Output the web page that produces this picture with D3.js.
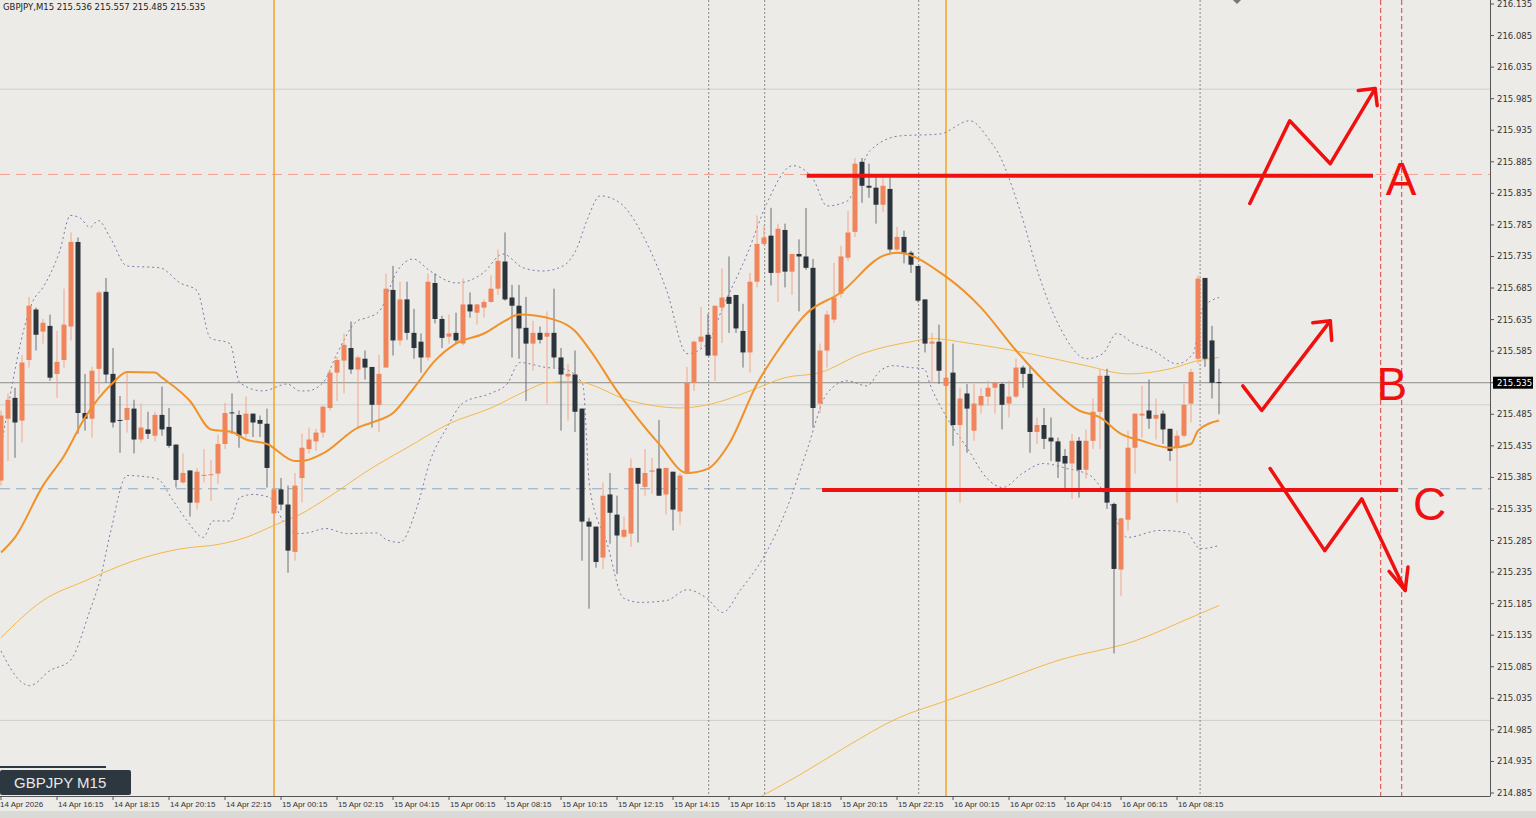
<!DOCTYPE html>
<html>
<head>
<meta charset="utf-8">
<script src="https://cdn.jsdelivr.net/npm/d3@7"></script>
<style>
  body { margin: 0; background: #ecebe7; }
  svg { display: block; font-family: "DejaVu Sans", sans-serif; }
</style>
</head>
<body>
<svg id="chart" width="1536" height="818"></svg>
<script>
// GBPJPY M15 candles, bar 0 = 14 Apr 14:15
var opens = [215.380,215.478,215.511,215.475,215.571,215.651,215.616,215.625,215.549,215.571,
215.624,215.758,215.487,215.478,215.557,215.679,215.549,215.476,215.476,215.494,
215.445,215.461,215.451,215.484,215.465,215.437,215.377,215.396,215.345,215.389,
215.389,215.391,215.438,215.488,215.484,215.454,215.486,215.476,215.470,215.328,
215.366,215.342,215.267,215.384,215.430,215.442,215.456,215.495,215.551,215.570,
215.590,215.556,215.573,215.560,215.500,215.559,215.682,215.602,215.667,215.614,
215.600,215.575,215.693,215.636,215.608,215.614,215.597,215.659,215.646,215.654,
215.663,215.684,215.727,215.670,215.657,215.622,215.597,215.614,215.608,215.614,
215.575,215.545,215.548,215.494,215.315,215.307,215.258,215.358,215.326,215.291,
215.296,215.400,215.370,215.394,215.399,215.358,215.394,215.331,215.391,215.535,
215.600,215.611,215.578,215.654,215.671,215.674,215.617,215.583,215.695,215.755,
215.768,215.709,215.777,215.711,215.739,215.735,215.717,215.502,215.586,215.635,
215.676,215.733,215.774,215.885,215.847,215.844,215.817,215.842,215.746,215.766,
215.741,215.720,215.667,215.597,215.600,215.530,215.551,215.468,215.518,215.459,
215.499,215.513,215.527,215.533,215.502,215.513,215.559,215.549,215.457,215.468,
215.448,215.442,215.419,215.407,215.443,215.397,215.443,215.489,215.546,215.343,
215.239,215.318,215.432,215.483,215.491,215.478,215.486,215.462,215.432,215.451,
215.502,215.573,215.701,215.602,215.536];
var highs = [215.491,215.518,215.527,215.579,215.671,215.654,215.636,215.643,215.617,215.684,
215.773,215.765,215.549,215.560,215.681,215.701,215.590,215.514,215.552,215.508,
215.502,215.489,215.489,215.529,215.495,215.437,215.423,215.396,215.400,215.430,
215.413,215.453,215.503,215.518,215.491,215.513,215.486,215.483,215.494,215.384,
215.384,215.372,215.392,215.454,215.464,215.462,215.499,215.556,215.576,215.613,
215.632,215.578,215.586,215.560,215.579,215.708,215.720,215.695,215.695,215.652,
215.613,215.708,215.708,215.641,215.643,215.646,215.700,215.678,215.660,215.667,
215.705,215.746,215.773,215.690,215.690,215.671,215.633,215.624,215.648,215.684,
215.590,215.565,215.586,215.494,215.321,215.307,215.377,215.392,215.356,215.323,
215.415,215.400,215.430,215.416,215.476,215.400,215.394,215.392,215.560,215.602,
215.655,215.644,215.657,215.716,215.735,215.674,215.660,215.709,215.800,215.784,
215.812,215.787,215.787,215.739,215.762,215.812,215.731,215.597,215.649,215.725,
215.752,215.807,215.891,215.891,215.882,215.863,215.860,215.860,215.782,215.776,
215.744,215.720,215.667,215.614,215.627,215.570,215.597,215.527,215.533,215.533,
215.527,215.538,215.537,215.535,215.538,215.573,215.562,215.562,215.480,215.495,
215.480,215.448,215.430,215.454,215.449,215.461,215.510,215.556,215.557,215.345,
215.321,215.459,215.486,215.530,215.540,215.510,215.491,215.462,215.459,215.533,
215.557,215.705,215.701,215.625,215.557];
var lows = [215.372,215.411,215.416,215.440,215.559,215.586,215.597,215.538,215.511,215.559,
215.602,215.454,215.459,215.448,215.518,215.535,215.464,215.424,215.456,215.423,
215.440,215.446,215.442,215.451,215.432,215.369,215.375,215.323,215.334,215.377,
215.348,215.375,215.430,215.454,215.432,215.448,215.449,215.449,215.369,215.308,
215.333,215.234,215.253,215.345,215.423,215.427,215.448,215.491,215.506,215.518,
215.549,215.464,215.540,215.464,215.457,215.559,215.578,215.594,215.603,215.573,
215.551,215.570,215.629,215.590,215.597,215.597,215.594,215.638,215.627,215.638,
215.662,215.674,215.665,215.575,215.573,215.506,215.554,215.597,215.502,215.559,
215.459,215.475,215.457,215.253,215.177,215.242,215.240,215.280,215.232,215.288,
215.275,215.282,215.356,215.359,215.356,215.326,215.301,215.310,215.391,215.522,
215.590,215.578,215.538,215.598,215.614,215.614,215.559,215.551,215.686,215.753,
215.689,215.663,215.686,215.674,215.648,215.714,215.464,215.487,215.559,215.630,
215.670,215.728,215.766,215.820,215.828,215.787,215.806,215.741,215.744,215.724,
215.709,215.662,215.583,215.535,215.533,215.522,215.435,215.345,215.424,215.443,
215.486,215.499,215.486,215.461,215.480,215.511,215.527,215.424,215.438,215.430,
215.411,215.384,215.367,215.351,215.353,215.383,215.430,215.430,215.335,215.106,
215.197,215.301,215.391,215.448,215.462,215.445,215.438,215.411,215.345,215.448,
215.472,215.565,215.560,215.510,215.485];
var closes = [215.483,215.508,215.472,215.567,215.657,215.611,215.630,215.543,215.568,215.627,
215.758,215.487,215.478,215.554,215.678,215.548,215.472,215.475,215.495,215.445,
215.464,215.454,215.484,215.461,215.435,215.381,215.392,215.345,215.394,215.389,
215.390,215.438,215.487,215.487,215.451,215.486,215.472,215.470,215.400,215.366,
215.342,215.269,215.372,215.432,215.445,215.456,215.497,215.551,215.571,215.595,
215.556,215.575,215.559,215.500,215.549,215.684,215.602,215.667,215.614,215.590,
215.575,215.695,215.636,215.606,215.613,215.602,215.659,215.648,215.659,215.663,
215.684,215.728,215.667,215.657,215.621,215.597,215.614,215.603,215.614,215.575,
215.548,215.549,215.489,215.315,215.307,215.251,215.356,215.329,215.293,215.302,
215.400,215.375,215.392,215.396,215.356,215.400,215.334,215.388,215.535,215.600,
215.608,215.578,215.657,215.670,215.660,215.621,215.583,215.695,215.755,215.765,
215.709,215.779,215.711,215.739,215.735,215.717,215.495,215.586,215.643,215.670,
215.735,215.773,215.882,215.847,215.844,215.817,215.847,215.746,215.766,215.741,
215.722,215.665,215.597,215.600,215.554,215.543,215.468,215.510,215.494,215.502,
215.514,215.527,215.535,215.500,215.513,215.559,215.549,215.457,215.468,215.446,
215.442,215.410,215.407,215.443,215.397,215.443,215.489,215.546,215.345,215.240,
215.320,215.432,215.486,215.486,215.478,215.484,215.461,215.427,215.451,215.500,
215.552,215.700,215.573,215.535,215.535];

// indicator readings [bar, price]
var maFast = [[0,215.266],[2,215.290],[6,215.372],[9,215.419],[12,215.480],[16,215.535],[18,215.552],[22,215.551],
[23,215.543],[27,215.506],[30,215.461],[33,215.457],[35,215.445],[38,215.438],[42,215.411],[43,215.411],[46,215.423],
[51,215.464],[53,215.472],[56,215.487],[59,215.527],[62,215.570],[65,215.597],[69,215.613],[72,215.633],[74,215.643],
[79,215.635],[82,215.617],[84,215.589],[88,215.522],[94,215.438],[98,215.392],[101,215.399],[104,215.438],[108,215.533],
[111,215.586],[115,215.644],[120,215.678],[126,215.736],[128,215.741],[135,215.703],[140,215.654],[145,215.586],
[149,215.538],[154,215.491],[157,215.480],[160,215.454],[163,215.443],[167,215.432],[170,215.438],[171,215.459],[174,215.475]];
var maMid = [[0,215.131],[6,215.190],[12,215.221],[19,215.253],[27,215.274],[30,215.277],[35,215.290],[39,215.309],
[43,215.328],[46,215.348],[53,215.400],[58,215.432],[64,215.470],[70,215.495],[75,215.522],[78,215.535],[82,215.537],
[90,215.506],[97,215.495],[103,215.506],[107,215.522],[112,215.543],[117,215.551],[123,215.581],[130,215.600],
[133,215.605],[138,215.598],[147,215.581],[155,215.562],[161,215.549],[167,215.557],[171,215.570],[174,215.575]];
var maSlow = [[107,214.870],[114,214.913],[121,214.960],[128,215.003],[135,215.031],[143,215.063],[151,215.095],
[162,215.126],[170,215.163],[174,215.182]];
var bbUpper = [[0,215.432],[4.6,215.665],[6,215.686],[8.4,215.744],[9.9,215.800],[11.3,215.796],[12.7,215.781],
[13.9,215.792],[15.6,215.765],[18,215.720],[22.7,215.717],[25.6,215.693],[28,215.681],[29.9,215.606],[32.7,215.597],
[34.1,215.535],[37.4,215.522],[40.9,215.533],[42.7,215.522],[43.7,215.522],[46,215.535],[48,215.581],[50.9,215.633],
[52.3,215.638],[54.1,215.649],[56.6,215.712],[58.9,215.731],[61.3,215.712],[65.1,215.693],[68.9,215.709],[71.7,215.739],
[74.6,215.717],[77.4,215.712],[80.3,215.720],[82.3,215.749],[83.7,215.792],[85.6,215.831],[88.4,215.820],[92.3,215.755],
[95.1,215.681],[98,215.581],[100.9,215.597],[103.1,215.654],[106.6,215.739],[109.4,215.819],[113.1,215.879],[116,215.858],
[118,215.815],[120.9,215.823],[124.1,215.902],[128.4,215.926],[134.1,215.929],[138.4,215.950],[141.3,215.918],
[142.3,215.902],[145.6,215.807],[148.4,215.701],[151.3,215.622],[155.1,215.573],[157.4,215.581],[159.4,215.613],
[161.7,215.598],[164.6,215.586],[168,215.565],[170.3,215.581],[171.7,215.654],[174,215.670]];
var bbLower = [[0,215.110],[2.7,215.063],[4.1,215.055],[7,215.079],[9.9,215.095],[12.7,215.174],[14.1,215.221],
[15.6,215.296],[18,215.388],[22.3,215.383],[24.6,215.348],[26.6,215.316],[28.9,215.290],[30.3,215.316],[32.7,215.316],
[34.1,215.353],[36,215.358],[38.4,215.353],[40.3,215.316],[42.3,215.296],[43.7,215.297],[46.4,215.304],[49.4,215.296],
[53.7,215.297],[55.1,215.286],[57,215.282],[59.4,215.337],[61.3,215.411],[63.7,215.464],[66,215.503],[69.9,215.518],
[72.3,215.533],[74.1,215.567],[78,215.559],[80.3,215.557],[83.1,215.533],[84.1,215.369],[86.6,215.280],[88.9,215.194],
[91.3,215.187],[95.1,215.190],[98,215.207],[100.9,215.193],[103.1,215.171],[105.6,215.206],[108.9,215.258],
[112.3,215.337],[115.1,215.427],[118,215.518],[120.9,215.538],[123.7,215.530],[125.6,215.554],[127.4,215.562],
[129.9,215.559],[131.9,215.557],[132.7,215.533],[135.1,215.480],[138,215.432],[140.9,215.383],[143.1,215.369],
[146,215.392],[148.9,215.407],[152.3,215.399],[155.6,215.388],[158,215.353],[160.9,215.290],[165.6,215.301],
[169.4,215.297],[171.3,215.272],[174,215.277]];

var priceTicks = ["216.135","216.085","216.035","215.985","215.935","215.885","215.835","215.785","215.735",
"215.685","215.635","215.585","215.535","215.485","215.435","215.385","215.335","215.285","215.235","215.185",
"215.135","215.085","215.035","214.985","214.935","214.885"];
var timeLabels = ["14 Apr 2026","14 Apr 16:15","14 Apr 18:15","14 Apr 20:15","14 Apr 22:15",
"15 Apr 00:15","15 Apr 02:15","15 Apr 04:15","15 Apr 06:15","15 Apr 08:15","15 Apr 10:15","15 Apr 12:15",
"15 Apr 14:15","15 Apr 16:15","15 Apr 18:15","15 Apr 20:15","15 Apr 22:15",
"16 Apr 00:15","16 Apr 02:15","16 Apr 04:15","16 Apr 06:15","16 Apr 08:15"];
var gridPrices = [216.0, 215.5, 215.0];
var sessionBars = [39, 135];          // orange verticals (day starts)
var markerBars = [101.1, 109.1, 131.1, 171.3];
var futureBars = [197.1, 200.1];
var levelA = 215.865, levelC = 215.367, lastPrice = 215.535;

// hand-drawn scenario annotations [bar, price]
var lineA = [[115.1, 215.863], [196, 215.863]];
var lineC = [[117.3, 215.365], [199.6, 215.365]];
var arrowA = [[178.4,215.819],[184.1,215.950],[189.9,215.882],[196.3,216.001]];
var headA = [[193.9,215.998],[196.3,216.001],[196.6,215.974]];
var arrowB = [[177.4,215.530],[180.1,215.491],[189.9,215.633]];
var headB = [[187.4,215.630],[189.9,215.633],[190.1,215.602]];
var arrowC = [[181.3,215.399],[189.1,215.269],[194.4,215.351],[200.6,215.206]];
var headC = [[198.3,215.236],[200.6,215.206],[201.0,215.243]];
var letters = [["A",200.0,215.858],["B",198.7,215.533],["C",204.1,215.343]];

var plotW = 1490, plotH = 796;
var x = d3.scaleLinear().domain([0, 1]).range([1, 8]);
var y = d3.scaleLinear().domain([214.885, 216.135]).range([793, 4]);

var svg = d3.select("#chart");
svg.append("rect").attr("width", 1536).attr("height", 818).attr("fill", "#ecebe7");
svg.append("defs").append("clipPath").attr("id", "plot")
    .append("rect").attr("width", plotW).attr("height", plotH);
var g = svg.append("g").attr("clip-path", "url(#plot)");

gridPrices.forEach(function(p) {
    g.append("line").attr("x1", 0).attr("x2", plotW).attr("y1", y(p)).attr("y2", y(p))
        .attr("stroke", "#cfcfcb").attr("stroke-width", 1);
});
g.append("line").attr("x1", 0).attr("x2", plotW).attr("y1", y(lastPrice)).attr("y2", y(lastPrice))
    .attr("stroke", "#8c8c8c");
g.append("line").attr("x1", 0).attr("x2", plotW).attr("y1", y(levelA)).attr("y2", y(levelA))
    .attr("stroke", "#f0a090").attr("stroke-dasharray", "10,6");
g.append("line").attr("x1", 0).attr("x2", plotW).attr("y1", y(levelC)).attr("y2", y(levelC))
    .attr("stroke", "#90a8c0").attr("stroke-dasharray", "10,6");

markerBars.forEach(function(b) {
    g.append("line").attr("x1", x(b)).attr("x2", x(b)).attr("y1", 0).attr("y2", plotH)
        .attr("stroke", "#8a8a8a").attr("stroke-dasharray", "2,2");
});
sessionBars.forEach(function(b) {
    g.append("line").attr("x1", x(b)).attr("x2", x(b)).attr("y1", 0).attr("y2", plotH)
        .attr("stroke", "#f5a623").attr("stroke-width", 1.5);
});
futureBars.forEach(function(b) {
    g.append("line").attr("x1", x(b)).attr("x2", x(b)).attr("y1", 0).attr("y2", plotH)
        .attr("stroke", "#e04040").attr("stroke-dasharray", "5,3");
});

var line = d3.line().x(function(d) { return x(d[0]); }).y(function(d) { return y(d[1]); })
    .curve(d3.curveMonotoneX);
g.append("path").attr("d", line(bbUpper)).attr("fill", "none")
    .attr("stroke", "#7f78a8").attr("stroke-dasharray", "2,3");
g.append("path").attr("d", line(bbLower)).attr("fill", "none")
    .attr("stroke", "#7f78a8").attr("stroke-dasharray", "2,3");
g.append("path").attr("d", line(maSlow)).attr("fill", "none").attr("stroke", "#f5b84a").attr("stroke-width", 1);
g.append("path").attr("d", line(maMid)).attr("fill", "none").attr("stroke", "#f5b84a").attr("stroke-width", 1);

// candles
var bars = d3.range(opens.length);
var candles = g.append("g").selectAll("g").data(bars).enter().append("g");
function up(i) { return closes[i] >= opens[i]; }
candles.append("line")
    .attr("x1", function(i) { return x(i); }).attr("x2", function(i) { return x(i); })
    .attr("y1", function(i) { return y(highs[i]); }).attr("y2", function(i) { return y(lows[i]); })
    .attr("stroke", function(i) { return up(i) ? "#f4a58a" : "#6a6f74"; });
candles.append("rect")
    .attr("x", function(i) { return x(i) - 2.5; }).attr("width", 5)
    .attr("y", function(i) { return y(Math.max(opens[i], closes[i])); })
    .attr("height", function(i) { return Math.max(1, Math.abs(y(opens[i]) - y(closes[i]))); })
    .attr("fill", function(i) { return up(i) ? "#f0845a" : "#2b333b"; });

g.append("path").attr("d", line(maFast)).attr("fill", "none").attr("stroke", "#f0922a").attr("stroke-width", 2);

// annotations
var straight = d3.line().x(function(d) { return x(d[0]); }).y(function(d) { return y(d[1]); });
[lineA, lineC].forEach(function(l) {
    g.append("path").attr("d", straight(l)).attr("stroke", "#f01010").attr("stroke-width", 4).attr("fill", "none");
});
[arrowA, headA, arrowB, headB, arrowC, headC].forEach(function(l) {
    g.append("path").attr("d", straight(l)).attr("stroke", "#f01010").attr("stroke-width", 3.5)
        .attr("fill", "none").attr("stroke-linejoin", "round").attr("stroke-linecap", "round");
});
letters.forEach(function(l) {
    g.append("text").attr("x", x(l[1])).attr("y", y(l[2])).attr("text-anchor", "middle")
        .attr("dominant-baseline", "central").attr("fill", "#f01010")
        .attr("font-size", 46).attr("font-family", "Liberation Sans, sans-serif").text(l[0]);
});

// axes
svg.append("line").attr("x1", plotW + 0.5).attr("x2", plotW + 0.5).attr("y1", 0).attr("y2", plotH)
    .attr("stroke", "#555");
svg.append("line").attr("x1", 0).attr("x2", plotW + 0.5).attr("y1", plotH + 0.5).attr("y2", plotH + 0.5)
    .attr("stroke", "#555");
var yAxis = svg.append("g");
priceTicks.forEach(function(t) {
    var py = y(+t);
    yAxis.append("line").attr("x1", plotW).attr("x2", plotW + 4).attr("y1", py).attr("y2", py).attr("stroke", "#555");
    yAxis.append("text").attr("x", plotW + 7).attr("y", py).attr("dominant-baseline", "central")
        .attr("font-size", 8.5).attr("fill", "#333").text(t);
});
yAxis.append("rect").attr("x", plotW + 3).attr("y", y(lastPrice) - 6).attr("width", 40).attr("height", 12).attr("fill", "#000");
yAxis.append("text").attr("x", plotW + 7).attr("y", y(lastPrice)).attr("dominant-baseline", "central")
    .attr("font-size", 8.5).attr("fill", "#fff").text(lastPrice.toFixed(3));

var xAxis = svg.append("g");
timeLabels.forEach(function(t, k) {
    var px = x(k * 8);
    xAxis.append("line").attr("x1", px).attr("x2", px).attr("y1", plotH).attr("y2", plotH + 4).attr("stroke", "#555");
    xAxis.append("text").attr("x", k === 0 ? 0 : px + 1).attr("y", plotH + 11)
        .attr("font-family", "Liberation Sans, sans-serif").attr("font-size", 8)
        .attr("fill", "#333").text(t);
});
svg.append("rect").attr("x", 0).attr("y", 811).attr("width", 1536).attr("height", 7).attr("fill", "#d9d9d6");

// header and symbol label
svg.append("text").attr("x", 3).attr("y", 10).attr("font-size", 8.5).attr("fill", "#222")
    .text("GBPJPY,M15  215.536 215.557 215.485 215.535");
svg.append("rect").attr("x", 0).attr("y", 766).attr("width", 106).attr("height", 2).attr("fill", "#2d3740");
svg.append("rect").attr("x", 0).attr("y", 770).attr("width", 131).attr("height", 25).attr("rx", 2).attr("fill", "#2d3740");
svg.append("text").attr("x", 14).attr("y", 788).attr("font-size", 15).attr("fill", "#e8e8e8")
    .attr("font-family", "Liberation Sans, sans-serif").text("GBPJPY M15");
svg.append("path").attr("d", "M1233,0 L1237,4 L1241,0 Z").attr("fill", "#777");
</script>
</body>
</html>
